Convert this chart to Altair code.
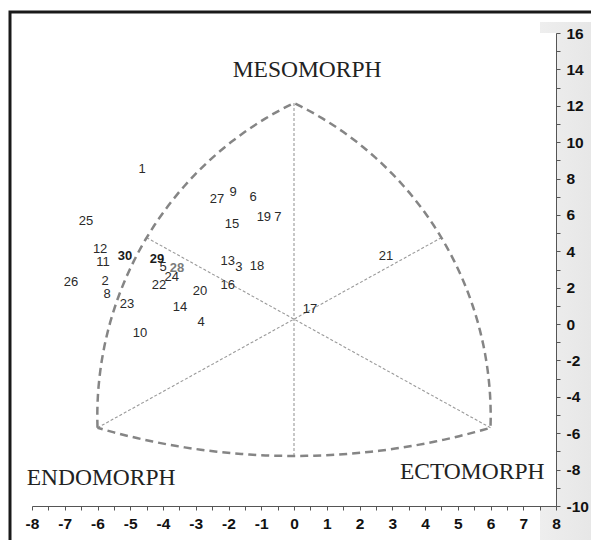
import altair as alt
import pandas as pd
import numpy as np

# ---- subject somatopoints (labels and coordinates) ----
ids = ["1", "25", "12", "11", "30", "29", "5", "28", "24", "26", "2", "8", "22", "20", "16",
       "23", "14", "4", "10", "13", "3", "18", "27", "9", "6", "15", "19", "7", "17", "21"]
xs = [-4.64, -6.35, -5.92, -5.83, -5.16, -4.18, -4.00, -3.57, -3.73, -6.81, -5.77, -5.71, -4.12, -2.87, -2.02,
      -5.10, -3.48, -2.84, -4.70, -2.02, -1.68, -1.13, -2.35, -1.86, -1.25, -1.89, -0.92, -0.49, 0.49, 2.81]
ys = [8.52, 5.66, 4.12, 3.41, 3.74, 3.57, 3.13, 3.08, 2.58, 2.31, 2.36, 1.65, 2.14, 1.81, 2.14,
      1.10, 0.93, 0.11, -0.49, 3.46, 3.13, 3.19, 6.87, 7.25, 6.98, 5.49, 5.88, 5.88, 0.82, 3.74]
bold_ids = ["29", "30"]
gray_bold_ids = ["28"]

# ---- somatochart frame ----
corner_x = [-6.0, 0.0, 6.0]      # endomorph, mesomorph, ectomorph corners
corner_y = [-5.7, 12.15, -5.7]
mid_x = [-4.5, 4.5, 0.0]         # arc midpoints: left arc, right arc, bottom arc
mid_y = [4.75, 4.75, -7.25]

region_names = ["MESOMORPH", "ENDOMORPH", "ECTOMORPH"]
region_x = [0.4, -5.89, 5.44]
region_y = [13.96, -8.46, -8.13]

x_ticks = [v / 2 for v in range(-16, 17)]
y_ticks = list(range(-10, 17))

W, H = 524, 473
SX = W / 16.0
SY = H / 26.0


def arc(p0, pm, p1, n=50):
    # circle through three points, computed in screen-proportional space
    a = np.array([p0[0] * SX, p0[1] * SY])
    b = np.array([pm[0] * SX, pm[1] * SY])
    c = np.array([p1[0] * SX, p1[1] * SY])
    d = 2 * (a[0] * (b[1] - c[1]) + b[0] * (c[1] - a[1]) + c[0] * (a[1] - b[1]))
    ux = ((a @ a) * (b[1] - c[1]) + (b @ b) * (c[1] - a[1]) + (c @ c) * (a[1] - b[1])) / d
    uy = ((a @ a) * (c[0] - b[0]) + (b @ b) * (a[0] - c[0]) + (c @ c) * (b[0] - a[0])) / d
    r = np.hypot(a[0] - ux, a[1] - uy)
    t0 = np.arctan2(a[1] - uy, a[0] - ux)
    tm = np.arctan2(b[1] - uy, b[0] - ux)
    t1 = np.arctan2(c[1] - uy, c[0] - ux)

    def norm(t):
        return (t - t0) % (2 * np.pi)
    if norm(tm) < norm(t1):
        ts = t0 + np.linspace(0, norm(t1), n)
    else:
        ts = t0 - np.linspace(0, 2 * np.pi - norm(t1), n)
    return list((ux + r * np.cos(ts)) / SX), list((uy + r * np.sin(ts)) / SY)


L = (corner_x[0], corner_y[0])
T = (corner_x[1], corner_y[1])
R = (corner_x[2], corner_y[2])
ML = (mid_x[0], mid_y[0])
MR = (mid_x[1], mid_y[1])
MB = (mid_x[2], mid_y[2])

ox, oy = [], []
for p0, pm, p1 in [(L, ML, T), (T, MR, R), (R, MB, L)]:
    ax_, ay_ = arc(p0, pm, p1)
    ox += ax_
    oy += ay_
outline = pd.DataFrame({"x": ox, "y": oy, "i": range(len(ox))})

inner = pd.DataFrame({
    "x": [L[0], MR[0], R[0], ML[0], T[0], MB[0]],
    "y": [L[1], MR[1], R[1], ML[1], T[1], MB[1]],
    "g": [0, 0, 1, 1, 2, 2],
    "i": [0, 1, 0, 1, 0, 1],
})

pts = pd.DataFrame({"id": ids, "x": xs, "y": ys})
pts["style"] = np.where(pts["id"].isin(bold_ids), "bold",
                        np.where(pts["id"].isin(gray_bold_ids), "graybold", "normal"))

regions = pd.DataFrame({"name": region_names, "x": region_x, "y": region_y})
one = pd.DataFrame({"a": [0]})

xscale = alt.Scale(domain=[-8, 8], nice=False, zero=False)
yscale = alt.Scale(domain=[-10, 16], nice=False, zero=False)

xaxis = alt.Axis(values=x_ticks, labelExpr="datum.value % 1 == 0 ? '' + datum.value : ''",
                 title=None, grid=False, orient="bottom", tickSize=4, labelPadding=6,
                 labelFont="Liberation Sans Narrow, Liberation Sans", labelFontWeight="bold",
                 labelFontSize=15.5, labelColor="#111", domainColor="#555", tickColor="#555",
                 zindex=1, labelFlush=False, labelOverlap=False, labelBound=False)
yaxis = alt.Axis(values=y_ticks, labelExpr="datum.value % 2 == 0 ? '' + datum.value : ''",
                 title=None, grid=False, orient="right", tickSize=4, labelPadding=6,
                 labelFont="Liberation Sans Narrow, Liberation Sans", labelFontWeight="bold",
                 labelFontSize=15.5, labelColor="#111", domainColor="#555", tickColor="#555",
                 zindex=1, labelFlush=False, labelOverlap=False, labelBound=False)

X = alt.X("x:Q", scale=xscale, axis=xaxis)
Y = alt.Y("y:Q", scale=yscale, axis=yaxis)

panel = alt.Chart(one).mark_rect(
    fill=alt.LinearGradient(gradient="linear", x1=0, x2=1, y1=0, y2=0,
                            stops=[alt.GradientStop(color="#eeeeee", offset=0),
                                   alt.GradientStop(color="#e2e2e2", offset=0.45),
                                   alt.GradientStop(color="#f2f2f2", offset=1)])
).encode(x=alt.value(508), x2=alt.value(700), y=alt.value(-11), y2=alt.value(700))

white = alt.Chart(one).mark_rect(fill="white").encode(
    x=alt.value(0), x2=alt.value(W), y=alt.value(0), y2=alt.value(H))

frame = alt.Chart(one).mark_rect(fillOpacity=0, stroke="#1a1a1a", strokeWidth=3).encode(
    x=alt.value(-22), x2=alt.value(800), y=alt.value(-21), y2=alt.value(800))

outline_layer = alt.Chart(outline).mark_line(
    color="#858585", strokeWidth=2.5, strokeDash=[8, 5]
).encode(x=X, y=Y, order="i:Q")

inner_layer = alt.Chart(inner).mark_line(
    color="#9a9a9a", strokeWidth=1.1, strokeDash=[3, 2]
).encode(x=X, y=Y, detail="g:N", order="i:Q")

base_txt = alt.Chart(pts).encode(x=X, y=Y, text="id:N")
labels_normal = base_txt.transform_filter("datum.style == 'normal'").mark_text(
    font="Liberation Sans", fontSize=13, color="#2a2a2a")
labels_bold = base_txt.transform_filter("datum.style == 'bold'").mark_text(
    font="Liberation Sans", fontSize=13, fontWeight="bold", color="#1a1a1a")
labels_gray = base_txt.transform_filter("datum.style == 'graybold'").mark_text(
    font="Liberation Sans", fontSize=13, fontWeight="bold", color="#7a7a7a")

region_layer = alt.Chart(regions).mark_text(
    font="Liberation Serif", fontSize=23.5, color="#222"
).encode(x=X, y=Y, text="name:N")

chart = alt.layer(
    panel, white, frame, inner_layer, outline_layer,
    labels_normal, labels_bold, labels_gray, region_layer
).properties(
    width=W, height=H,
    autosize=alt.AutoSizeParams(type="none"),
    padding={"left": 24, "top": 25, "right": 35, "bottom": 34},
    background="white",
).configure_view(stroke=None).configure_axis(labelOverlap=False)

chart.save("out.html", embed_options={"renderer": "svg", "actions": False})
